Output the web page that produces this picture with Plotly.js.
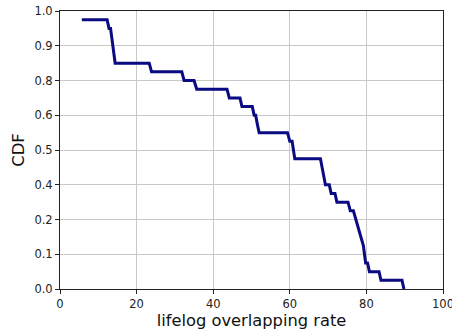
<!DOCTYPE html>
<html>
<head>
<meta charset="utf-8">
<script src="https://cdn.plot.ly/plotly-3.0.1.min.js"></script>
<style>html,body{margin:0;padding:0;background:#fff;overflow:hidden;}#chart{width:452px;height:332px;}</style>
</head>
<body>
<div id="chart"></div>
<script>
// Curve vertices (x = overlapping rate, y = CDF in 32nds)
const rateX = [5.7, 12.3, 12.8, 13.2, 14.4, 23.3, 23.9, 31.8, 32.4, 35.0, 35.7, 43.6, 44.2, 47.0, 47.5, 50.2, 50.7, 51.1, 51.5, 52.0, 59.4, 60.0, 60.6, 61.3, 68.0, 68.8, 69.3, 70.3, 70.8, 71.8, 72.3, 75.2, 75.8, 76.6, 79.2, 79.8, 80.3, 80.8, 83.3, 83.8, 89.3, 89.8];
const cdf32 = [31, 31, 30, 30, 26, 26, 25, 25, 24, 24, 23, 23, 22, 22, 21, 21, 20, 20, 19, 18, 18, 17, 17, 15, 15, 13, 12, 12, 11, 11, 10, 10, 9, 9, 5, 3, 3, 2, 2, 1, 1, 0];
const cdfY = cdf32.map(v => v / 32);
const yTickVals = [0, 0.125, 0.25, 0.375, 0.5, 0.625, 0.75, 0.875, 1.0];
const yTickText = ['0.0', '0.1', '0.2', '0.4', '0.5', '0.6', '0.8', '0.9', '1.0'];
const xTickVals = [0, 20, 40, 60, 80, 100];

const trace = {
  x: rateX, y: cdfY, type: 'scatter', mode: 'lines',
  line: {color: '#0a0a82', width: 3}, hoverinfo: 'none'
};
const axisCommon = {
  showline: true, mirror: true, linecolor: '#222', linewidth: 1,
  ticks: 'outside', ticklen: 4, tickcolor: '#222', tickwidth: 1,
  showgrid: true, gridcolor: '#c8c8c8', gridwidth: 1, zeroline: false,
  ticklabeloverflow: 'allow',
  tickfont: {family: 'DejaVu Sans', size: 11.5, color: '#222'}
};
const layout = {
  width: 452, height: 332,
  margin: {l: 60, r: 9, t: 11, b: 43},
  paper_bgcolor: '#fff', plot_bgcolor: '#fff',
  showlegend: false,
  xaxis: Object.assign({}, axisCommon, {
    range: [0, 100], tickvals: xTickVals, ticktext: xTickVals.map(String),
    title: {text: 'lifelog overlapping rate', font: {family: 'DejaVu Sans', size: 16.3, color: '#111'}, standoff: 1}
  }),
  yaxis: Object.assign({}, axisCommon, {
    range: [0, 1], tickvals: yTickVals, ticktext: yTickText,
    title: {text: 'CDF', font: {family: 'DejaVu Sans', size: 16.5, color: '#111'}, standoff: 5}
  })
};
Plotly.newPlot('chart', [trace], layout, {staticPlot: true, displayModeBar: false});
</script>
</body>
</html>
